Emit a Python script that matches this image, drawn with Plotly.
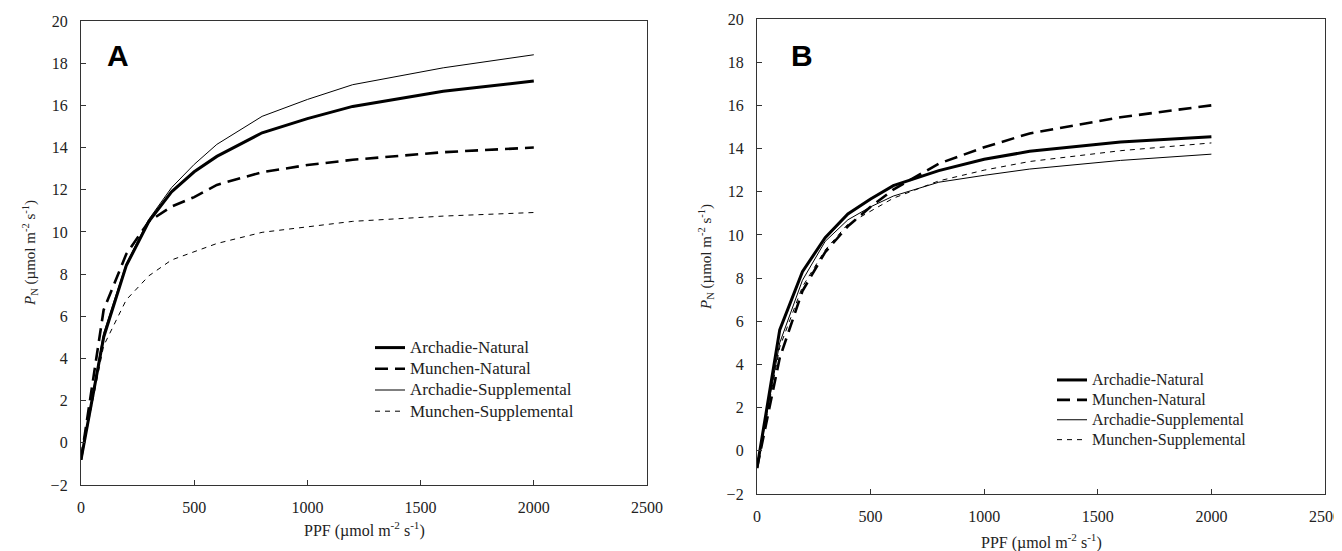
import plotly.graph_objects as go

ppf = [0, 100, 200, 300, 400, 500, 600, 800, 1000, 1200, 1600, 2000]

# Panel A
a_arch_nat = [-0.8, 5.0, 8.4, 10.5, 11.9, 12.85, 13.58, 14.7, 15.37, 15.95, 16.67, 17.15]
a_mun_nat = [-0.8, 6.3, 8.95, 10.5, 11.2, 11.65, 12.23, 12.83, 13.17, 13.42, 13.78, 14.0]
a_arch_sup = [-0.8, 5.2, 8.5, 10.6, 12.1, 13.2, 14.15, 15.48, 16.28, 16.98, 17.78, 18.4]
a_mun_sup = [-0.8, 4.6, 6.78, 7.92, 8.67, 9.07, 9.45, 9.98, 10.25, 10.5, 10.75, 10.92]

# Panel B
b_arch_nat = [-0.8, 5.6, 8.3, 9.87, 10.97, 11.66, 12.28, 12.98, 13.5, 13.87, 14.3, 14.55]
b_mun_nat = [-0.8, 4.3, 7.4, 9.2, 10.4, 11.3, 12.1, 13.3, 14.06, 14.7, 15.45, 16.0]
b_arch_sup = [-0.8, 5.0, 7.9, 9.7, 10.7, 11.3, 11.8, 12.44, 12.76, 13.05, 13.45, 13.74]
b_mun_sup = [-0.8, 4.8, 7.6, 9.3, 10.5, 11.1, 11.7, 12.5, 13.0, 13.4, 13.9, 14.26]

names = ["Archadie-Natural", "Munchen-Natural", "Archadie-Supplemental", "Munchen-Supplemental"]
styles = [dict(color="black", width=3),
          dict(color="black", width=2.6, dash="13px,7px"),
          dict(color="black", width=1),
          dict(color="black", width=1, dash="5px,5px")]


def big(s, size):
    return '<span style="font-size:%dpx">%s</span>' % (size, s)


fig = go.Figure()
for i, ys in enumerate([a_arch_nat, a_mun_nat, a_arch_sup, a_mun_sup]):
    fig.add_trace(go.Scatter(x=ppf, y=ys, mode="lines", name=big(names[i], 17), line=styles[i],
                             xaxis="x", yaxis="y", legend="legend"))
for i, ys in enumerate([b_arch_nat, b_mun_nat, b_arch_sup, b_mun_sup]):
    fig.add_trace(go.Scatter(x=ppf, y=ys, mode="lines", name=big(names[i], 16), line=styles[i],
                             xaxis="x2", yaxis="y2", legend="legend2"))

# page body has an 8px margin, so the figure starts 8px in from the window corner
OFF = 8
W, H = 1342, 551


def px(x):
    return (x - OFF) / W


def py(y):
    return 1 - (y - OFF) / H


serif = "Times New Roman, Liberation Serif, serif"
tickfont = dict(family=serif, size=16, color="#222")


def xax(dom, anchor):
    return dict(domain=dom, anchor=anchor, range=[0, 2500], tickvals=[0, 500, 1000, 1500, 2000, 2500],
                ticks="inside", ticklen=5, tickcolor="#333", showline=True, linecolor="#333", linewidth=1.3,
                mirror=True, showgrid=False, zeroline=False, tickfont=tickfont, ticklabelstandoff=8,
                automargin=False)


def yax(dom, anchor):
    return dict(domain=dom, anchor=anchor, range=[-2, 20], tickvals=list(range(-2, 21, 2)),
                ticks="inside", ticklen=5, tickcolor="#333", showline=True, linecolor="#333", linewidth=1.3,
                mirror=True, showgrid=False, zeroline=False, tickfont=tickfont, ticklabelstandoff=9,
                automargin=False)


ytitle = "<i>P</i><sub>N</sub> (µmol m<sup>-2</sup> s<sup>-1</sup>)"
xtitle = "PPF (µmol m<sup>-2</sup> s<sup>-1</sup>)"

legfont = dict(family=serif, size=14, color="#222")
legfont2 = dict(family=serif, size=13, color="#222")
ytitlefont = dict(family=serif, size=15, color="#222")
xtitlefont = dict(family=serif, size=16, color="#222")
labfont = dict(family="Liberation Sans, Arial", size=30, color="black")
fig.update_layout(
    width=W, height=H, margin=dict(l=0, r=0, t=0, b=0, autoexpand=False),
    paper_bgcolor="white", plot_bgcolor="white",
    xaxis=xax([px(81), px(647)], "y"),
    yaxis=yax([py(485), py(21)], "x"),
    xaxis2=xax([px(757), px(1325)], "y2"),
    yaxis2=yax([py(494), py(19)], "x2"),
    legend=dict(x=px(370), y=py(332), xanchor="left", yanchor="top", font=legfont,
                bgcolor="rgba(0,0,0,0)", tracegroupgap=0, itemwidth=30),
    legend2=dict(x=px(1052), y=py(365), xanchor="left", yanchor="top", font=legfont2,
                 bgcolor="rgba(0,0,0,0)", tracegroupgap=0, itemwidth=30),
    annotations=[
        dict(text="<b>A</b>", x=px(118), y=py(55), xref="paper", yref="paper", showarrow=False,
             font=labfont, xanchor="center", yanchor="middle"),
        dict(text="<b>B</b>", x=px(802), y=py(55), xref="paper", yref="paper", showarrow=False,
             font=labfont, xanchor="center", yanchor="middle"),
        dict(text=ytitle, x=px(30), y=py(253), xref="paper", yref="paper", showarrow=False, textangle=-90,
             font=ytitlefont, xanchor="center", yanchor="middle"),
        dict(text=ytitle, x=px(706), y=py(257), xref="paper", yref="paper", showarrow=False, textangle=-90,
             font=ytitlefont, xanchor="center", yanchor="middle"),
        dict(text=xtitle, x=px(364), y=py(529), xref="paper", yref="paper", showarrow=False,
             font=xtitlefont, xanchor="center", yanchor="middle"),
        dict(text=xtitle, x=px(1041), y=py(541), xref="paper", yref="paper", showarrow=False,
             font=xtitlefont, xanchor="center", yanchor="middle"),
    ],
)

fig.write_html("out.html")
